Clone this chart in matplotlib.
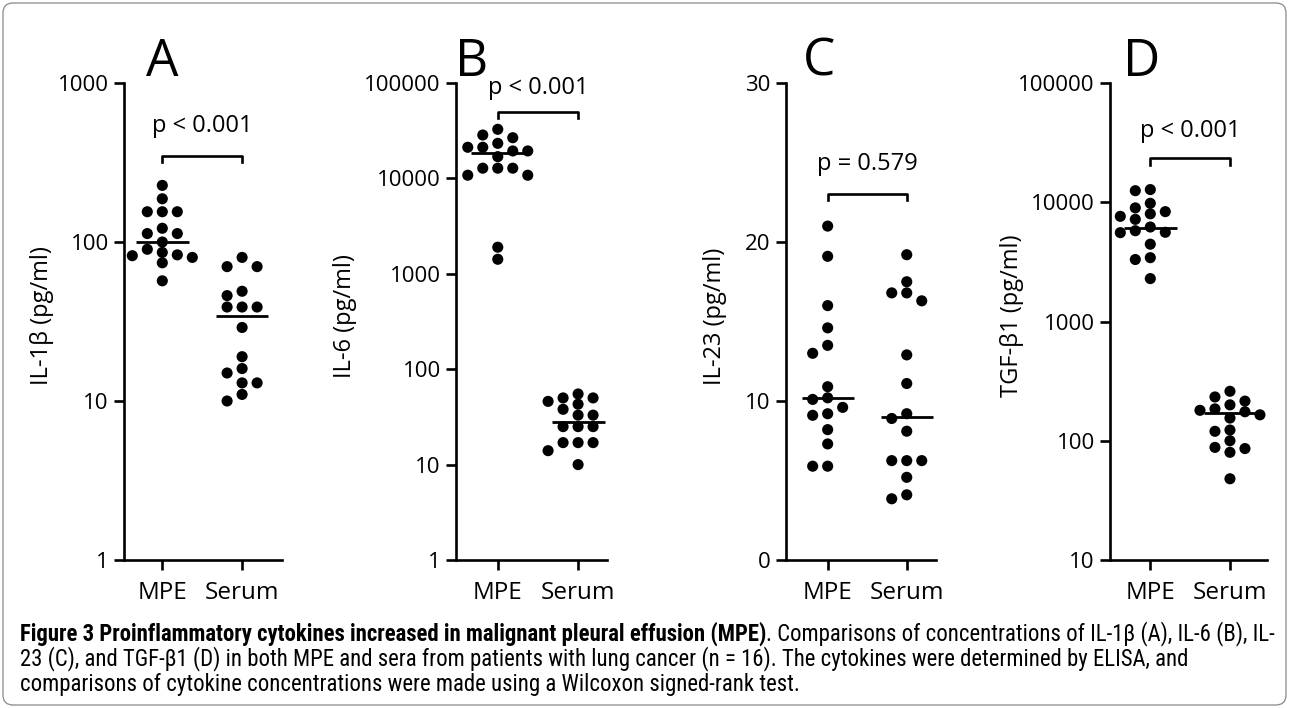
#!/usr/bin/env python3
"""Dot plots of cytokine levels in MPE vs serum (4 panels) with figure caption."""
import numpy as np
import matplotlib
matplotlib.use("Agg")
import matplotlib.pyplot as plt
from matplotlib import font_manager
from matplotlib.patches import FancyBboxPatch
from matplotlib.transforms import IdentityTransform, blended_transform_factory

W, H, DPI = 1290, 708, 100

groups = ["MPE", "Serum"]

# ── data (pg/ml) ──────────────────────────────────────────────────────────
il1b_mpe = [227, 187, 155, 155, 155, 122, 113, 113, 100, 90, 86, 83, 82, 80, 74, 57]
il1b_serum = [80, 70, 70, 49, 46, 39, 39, 39, 29, 19, 16, 15, 13, 13, 11, 10]
il1b_median = [100, 34]

il6_mpe = [32700, 28500, 26700, 23300, 21200, 21200, 19400, 19400, 16900,
           12800, 12800, 12800, 10800, 10800, 1900, 1420]
il6_serum = [55, 50, 50, 46, 43, 38, 33, 33, 25, 25, 25, 17, 17, 17, 14, 10]
il6_median = [18500, 27.7]

il23_mpe = [21.0, 19.1, 16.0, 14.6, 13.5, 13.0, 10.9, 10.2, 10.1, 9.6, 9.1, 9.2,
            8.2, 7.3, 5.9, 5.9]
il23_serum = [19.2, 17.5, 16.8, 16.8, 16.3, 12.9, 11.1, 8.9, 9.2, 8.1, 6.25, 6.25,
              6.25, 5.2, 3.85, 4.1]
il23_median = [10.2, 9.0]

tgfb_mpe = [12770, 12500, 9800, 8970, 8340, 8000, 7620, 7190, 6200, 5770, 5600,
            5560, 4450, 3430, 3310, 2290]
tgfb_serum = [260, 233, 215, 200, 185, 180, 175, 165, 155, 123, 120, 100, 88, 86, 80, 48]
tgfb_median = [6100, 171]

letters = ["A", "B", "C", "D"]
ylabels = ["IL-1β (pg/ml)", "IL-6 (pg/ml)", "IL-23 (pg/ml)", "TGF-β1 (pg/ml)"]
pvals = ["p < 0.001", "p < 0.001", "p = 0.579", "p < 0.001"]
yticks = [[1, 10, 100, 1000], [1, 10, 100, 1000, 10000, 100000],
          [0, 10, 20, 30], [10, 100, 1000, 10000, 100000]]

panels = [
    (il1b_mpe, il1b_serum, il1b_median),
    (il6_mpe, il6_serum, il6_median),
    (il23_mpe, il23_serum, il23_median),
    (tgfb_mpe, tgfb_serum, tgfb_median),
]

# ── layout (pixels in the 1290x708 image) ──────────────────────────────────
axes_px = [(124, 282), (456, 607), (786, 936), (1110, 1267)]
xlims = [(0.52, 2.5), (0.48, 2.36), (0.473, 2.37), (0.494, 2.465)]
ylabel_x = [42, 345, 715, 1012]
bracket_y = [0.848, 0.939, 0.768, 0.842]
ptext_y = [0.91, 0.99, 0.83, 0.90]
letter_dx = [0.0, -0.33, -0.11, -0.11]
AX_TOP, AX_BOT = 83, 560

avail = {f.name for f in font_manager.fontManager.ttflist}
FONT = "Open Sans" if "Open Sans" in avail else "DejaVu Sans"
CAP_FONT = next((f for f in ["Liberation Sans Narrow", "Roboto Condensed",
                             "Open Sans Condensed", "DejaVu Sans Condensed"] if f in avail),
                "Liberation Sans")
plt.rcParams["font.family"] = [FONT, "DejaVu Sans"]


def swarm(ax, values, xc, step_px=15.0, min_dist=10.0):
    """Prism-like column scatter: greedy placement on a horizontal grid."""
    tr = ax.transData
    vals = np.asarray(values, float)
    ys = tr.transform(np.column_stack([np.full(len(vals), xc), vals]))[:, 1]
    cands = [0]
    for k in range(1, 6):
        cands += [-k, k]
    placed, offs = [], np.zeros(len(vals))
    for i in np.argsort(-vals):
        for c in cands:
            ox = c * step_px
            if all((ox - px) ** 2 + (ys[i] - py) ** 2 >= min_dist ** 2 for px, py in placed):
                break
        placed.append((ox, ys[i]))
        offs[i] = ox
    x0 = tr.transform((xc, vals[0]))[0]
    inv = tr.inverted()
    return np.array([inv.transform((x0 + o, ys[0]))[0] for o in offs])


fig = plt.figure(figsize=(W / DPI, H / DPI), dpi=DPI)

for k, (mpe, serum, med) in enumerate(panels):
    l, r = axes_px[k]
    ax = fig.add_axes([l / W, 1 - AX_BOT / H, (r - l) / W, (AX_BOT - AX_TOP) / H])
    if k == 2:
        ax.set_ylim(0, 30)
    else:
        ax.set_yscale("log")
        ax.set_ylim(yticks[k][0], yticks[k][-1])
        ax.yaxis.set_minor_locator(matplotlib.ticker.NullLocator())
    ax.set_xlim(*xlims[k])
    ax.set_yticks(yticks[k])
    ax.set_yticklabels([str(t) for t in yticks[k]], fontsize=16)
    ax.set_xticks([1, 2])
    ax.set_xticklabels(groups, fontsize=17.5)
    for s in ("top", "right"):
        ax.spines[s].set_visible(False)
    for s in ("left", "bottom"):
        ax.spines[s].set_linewidth(1.9)
    ax.tick_params(width=1.9, length=7, pad=4)
    ax.tick_params(axis="x", pad=8)

    for j, vals in enumerate([mpe, serum]):
        xs = swarm(ax, vals, j + 1)
        ax.scatter(xs, vals, s=64, color="black", edgecolors="none", zorder=3, clip_on=False)
        ax.plot([j + 1 - 0.33, j + 1 + 0.33], [med[j], med[j]], color="black", lw=2.0,
                zorder=4, solid_capstyle="butt")

    bt = blended_transform_factory(ax.transData, ax.transAxes)
    by = bracket_y[k]
    ax.plot([1, 1, 2, 2], [by - 0.013, by, by, by - 0.013], color="black", lw=1.9,
            transform=bt, clip_on=False)
    ax.text(1.5, ptext_y[k], pvals[k], transform=bt, ha="center", va="center", fontsize=17)
    ax.text(1 + letter_dx[k], 1.015, letters[k], transform=bt, ha="center", va="baseline",
            fontsize=37)

    fig.text(ylabel_x[k] / W, 1 - 316 / H, ylabels[k], rotation=90, ha="center",
             va="center", fontsize=17)

# ── caption ────────────────────────────────────────────────────────────────
renderer = fig.canvas.get_renderer()
cap_lines = [
    [("Figure 3 Proinflammatory cytokines increased in malignant pleural effusion (MPE)", "bold"),
     (". Comparisons of concentrations of IL-1β (A), IL-6 (B), IL-", "normal")],
    [("23 (C), and TGF-β1 (D) in both MPE and sera from patients with lung cancer (n = 16). "
      "The cytokines were determined by ELISA, and", "normal")],
    [("comparisons of cytokine concentrations were made using a Wilcoxon signed-rank test.",
      "normal")],
]
cap_y = [634, 659, 684]
CAP_X0, CAP_X1 = 20, 1272


def put_line(parts, y, size):
    x = CAP_X0
    made = []
    for txt, weight in parts:
        t = fig.text(x / W, 1 - y / H, txt, fontsize=size, fontweight=weight,
                     family=[CAP_FONT, "DejaVu Sans"], ha="left", va="center")
        x = t.get_window_extent(renderer).x1
        made.append(t)
    return x, made


end, tmp = put_line(cap_lines[0], cap_y[0], 10)
for t in tmp:
    t.remove()
cap_size = 10 * (CAP_X1 - CAP_X0) / (end - CAP_X0)
for parts, y in zip(cap_lines, cap_y):
    put_line(parts, y, cap_size)

border = FancyBboxPatch((3, 3), W - 7, H - 6, boxstyle="round,pad=0,rounding_size=10",
                        transform=IdentityTransform(), facecolor="none",
                        edgecolor="#888888", lw=0.9)
fig.add_artist(border)

fig.savefig("out.png", dpi=DPI)
